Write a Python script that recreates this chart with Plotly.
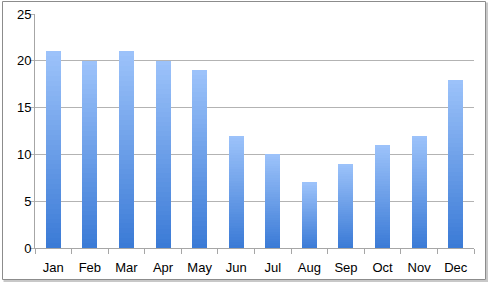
import plotly.graph_objects as go

months = ["Jan", "Feb", "Mar", "Apr", "May", "Jun", "Jul", "Aug", "Sep", "Oct", "Nov", "Dec"]
values = [21, 20, 21, 20, 19, 12, 10, 7, 9, 11, 12, 18]
y_ticks = [0, 5, 10, 15, 20, 25]

bottom_rgb = (58, 122, 214)
top_rgb = (157, 195, 250)
N = 40

fig = go.Figure()
for i in range(N):
    t = (i + 0.5) / N
    c = tuple(round(b + (tp - b) * t) for b, tp in zip(bottom_rgb, top_rgb))
    fig.add_trace(go.Bar(
        x=months, y=[v / N for v in values],
        marker=dict(color="rgb(%d,%d,%d)" % c, line=dict(width=0)),
        hoverinfo="skip", showlegend=False,
    ))

W, H = 488, 282
L, R, T, B = 35, 14, 14, 34
pw, ph = W - L - R, H - T - B

def px_to_paper(x, y):
    return (x - L) / pw, (H - B - y) / ph

x0, y0 = px_to_paper(2.5, 1.5)
x1, y1 = px_to_paper(485.5, 279.5)
sx0, sy0 = px_to_paper(4.5, 3.5)
sx1, sy1 = px_to_paper(487, 281)

fig.update_layout(
    width=W, height=H,
    margin=dict(l=L, r=R, t=T, b=B, autoexpand=False),
    paper_bgcolor="white", plot_bgcolor="white",
    barmode="stack", bargap=0.59,
    font=dict(family="Liberation Sans", size=13, color="#000"),
    xaxis=dict(
        type="category", range=[-0.5, 11.5], automargin=False,
        showgrid=False, showline=True, linecolor="#a6a6a6", linewidth=1,
        ticks="outside", tickson="boundaries", ticklen=5, tickcolor="#a6a6a6",
        tickfont=dict(size=13), ticklabelstandoff=7,
    ),
    yaxis=dict(
        range=[0, 25], tickvals=y_ticks, automargin=False,
        showgrid=True, gridcolor="#b3b3b3", gridwidth=1,
        showline=True, linecolor="#a6a6a6", linewidth=1,
        ticks="outside", ticklen=4, tickcolor="#b3b3b3",
        zeroline=False, tickfont=dict(size=13), ticklabelstandoff=-4,
    ),
    shapes=[
        dict(type="rect", xref="paper", yref="paper", x0=sx0, y0=sy0, x1=sx1, y1=sy1,
             line=dict(color="#c8c8c8", width=2), fillcolor="rgba(0,0,0,0)", layer="below"),
        dict(type="rect", xref="paper", yref="paper", x0=x0, y0=y0, x1=x1, y1=y1,
             line=dict(color="#8c8c8c", width=1), fillcolor="white", layer="below"),
    ],
)

fig.write_html("out.html")
